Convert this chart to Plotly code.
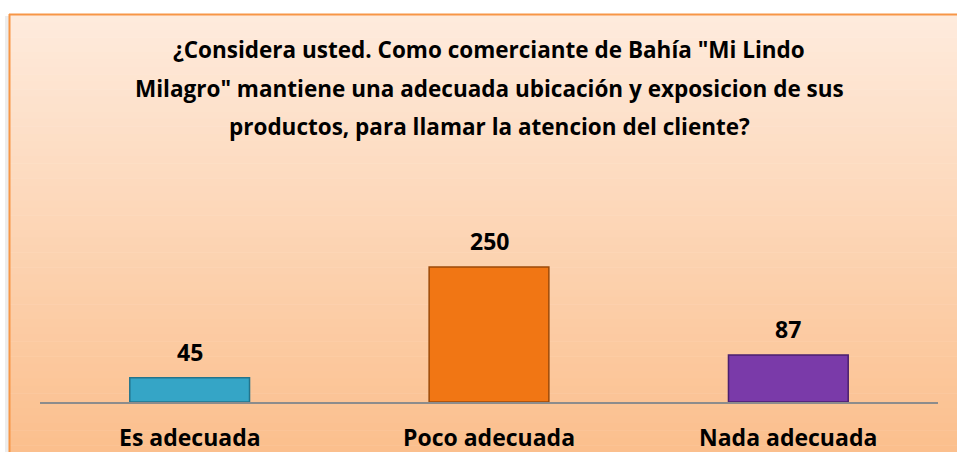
import plotly.graph_objects as go

categories = ["Es adecuada", "Poco adecuada", "Nada adecuada"]
values = [45, 250, 87]
bar_colors = ["#35A5C6", "#F17614", "#7A3AA9"]
line_colors = ["#23748C", "#9C4A08", "#4A1F6E"]

title_lines = [
    "¿Considera usted. Como comerciante de Bahía \"Mi Lindo",
    "Milagro\" mantiene una adecuada ubicación y exposicion de sus",
    "productos, para llamar la atencion del cliente?",
]

W, H = 957, 452
L, R, T, B = 40, 19, 132, 50
pw, ph = W - L - R, H - T - B

def px_x(x):
    return (x - L) / pw

def px_y(y):
    return (H - B - y) / ph

fig = go.Figure()
fig.add_trace(go.Bar(
    x=categories, y=values,
    marker=dict(color=bar_colors, line=dict(color=line_colors, width=1.5)),
    width=0.4, showlegend=False, hoverinfo="skip",
))

font_family = "'Open Sans', 'Noto Sans', sans-serif"
label_font = dict(size=23, color="#000000", family=font_family, weight="bold")

annotations = []
for c, v in zip(categories, values):
    annotations.append(dict(x=c, y=v, xref="x", yref="y", text=str(v), showarrow=False,
                            yanchor="middle", yshift=26, font=label_font))
    annotations.append(dict(x=c, y=0, xref="x", yref="y", text=c, showarrow=False,
                            yanchor="middle", yshift=-35, font=label_font))
for i, line in enumerate(title_lines):
    annotations.append(dict(x=px_x(489), y=px_y(50 + 38 * i), xref="paper", yref="paper",
                            text=line, showarrow=False, xanchor="center", yanchor="middle",
                            font=dict(size=22.5, color="#000000", family=font_family, weight="bold")))

# gradient background
shapes = []
top_c = (254, 235, 221)
bot_c = (251, 190, 139)
y0p, y1p = 15, 460
n = 60
for i in range(n):
    a = y0p + (y1p - y0p) * i / n
    b = y0p + (y1p - y0p) * (i + 1) / n
    t = (i + 0.5) / n
    col = tuple(int(round(top_c[k] + (bot_c[k] - top_c[k]) * t)) for k in range(3))
    shapes.append(dict(type="rect", xref="paper", yref="paper", layer="below",
                       x0=px_x(10), x1=px_x(970), y0=px_y(b + 0.5), y1=px_y(a),
                       line=dict(width=0), fillcolor="rgb(%d,%d,%d)" % col))
# soft shadow and border (top and left)
shapes.append(dict(type="line", xref="paper", yref="paper", layer="below",
                   x0=px_x(7), x1=px_x(7), y0=px_y(16), y1=px_y(470),
                   line=dict(color="rgba(0,0,0,0.07)", width=4)))
shapes.append(dict(type="line", xref="paper", yref="paper", layer="below",
                   x0=px_x(9), x1=px_x(970), y0=px_y(14.5), y1=px_y(14.5),
                   line=dict(color="#F79646", width=2)))
shapes.append(dict(type="line", xref="paper", yref="paper", layer="below",
                   x0=px_x(9.5), x1=px_x(9.5), y0=px_y(14), y1=px_y(470),
                   line=dict(color="#F79646", width=2)))

fig.update_layout(
    width=W, height=H,
    margin=dict(l=L, r=R, t=T, b=B, pad=0, autoexpand=False),
    paper_bgcolor="#FFFFFF", plot_bgcolor="rgba(0,0,0,0)",
    bargap=0.6,
    xaxis=dict(showgrid=False, showline=True, linecolor="#8C8C8C", linewidth=1.5,
               ticks="", showticklabels=False, fixedrange=True, automargin=False),
    yaxis=dict(range=[0, 500], visible=False, showgrid=False, zeroline=False,
               fixedrange=True, automargin=False),
    annotations=annotations, shapes=shapes,
)

fig.write_html("out.html", config={"displayModeBar": False},
               post_script="document.body.style.margin='0';document.body.style.overflow='hidden';")
